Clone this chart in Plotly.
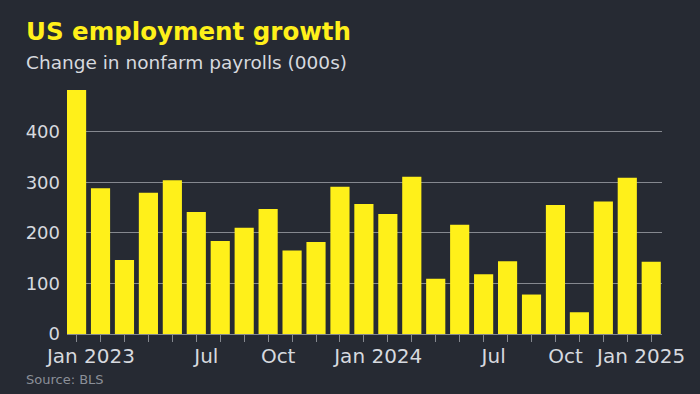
import plotly.graph_objects as go

# ---- data ----
months = ["2023-01", "2023-02", "2023-03", "2023-04", "2023-05", "2023-06",
          "2023-07", "2023-08", "2023-09", "2023-10", "2023-11", "2023-12",
          "2024-01", "2024-02", "2024-03", "2024-04", "2024-05", "2024-06",
          "2024-07", "2024-08", "2024-09", "2024-10", "2024-11", "2024-12",
          "2025-01"]
payrolls = [482, 288, 146, 279, 304, 241, 184, 210, 247, 165, 182, 291,
            257, 237, 311, 109, 216, 118, 144, 78, 255, 43, 262, 309, 143]
label_months = ["2023-01", "2023-07", "2023-10", "2024-01", "2024-07", "2024-10", "2025-01"]
label_texts = ["Jan 2023", "Jul", "Oct", "Jan 2024", "Jul", "Oct", "Jan 2025"]
y_ticks = [0, 100, 200, 300, 400]

# ---- style ----
BG = "#262a33"
YELLOW = "#fff01a"
GRID = "#85888f"
TXT = "#d6d9df"
FONT = "DejaVu Sans"

W, H = 700, 394
ML, MR, MT, MB = 67, 38, 81, 60
PH = H - MT - MB
PLOT_BOTTOM = H - MB


def py(px):
    """pixel row -> paper y"""
    return (PLOT_BOTTOM - px) / PH


PX_LEFT = (24 - ML) / (W - ML - MR)

idx = list(range(len(months)))
label_idx = [months.index(m) for m in label_months]


def label_shift(i, text):
    if i == len(months) - 1:
        return -0.42
    return 0.6 if text.startswith("Jan") else -0.58


label_pos = [i + label_shift(i, t) for i, t in zip(label_idx, label_texts)]

xr = [-0.4, len(months) - 0.55]

fig = go.Figure()
fig.add_trace(go.Bar(x=idx, y=payrolls, marker=dict(color=YELLOW, line=dict(width=0)),
                     width=0.8, showlegend=False))
# invisible trace to activate the label axis
fig.add_trace(go.Scatter(x=[xr[0]], y=[0], xaxis="x2", mode="markers",
                         marker=dict(opacity=0), showlegend=False, hoverinfo="skip"))

fig.update_layout(
    width=W, height=H,
    paper_bgcolor=BG, plot_bgcolor=BG,
    margin=dict(l=ML, r=MR, t=MT, b=MB),
    font=dict(family=FONT, color=TXT),
    xaxis=dict(range=xr, tickvals=idx, ticktext=[""] * len(idx), ticks="outside",
               ticklen=7, tickwidth=1, tickcolor=GRID, showgrid=False, zeroline=False,
               showline=False, fixedrange=True),
    xaxis2=dict(overlaying="x", anchor="y", side="bottom", range=xr,
                tickvals=label_pos, ticktext=label_texts, ticks="outside", ticklen=4,
                tickcolor="rgba(0,0,0,0)", showgrid=False, zeroline=False, showline=False,
                tickfont=dict(size=20, color=TXT, family=FONT)),
    yaxis=dict(range=[0, 500], tickvals=y_ticks, showgrid=True, gridcolor=GRID,
               gridwidth=1, zeroline=True, zerolinecolor=GRID, zerolinewidth=1,
               tickfont=dict(size=18, color=TXT, family=FONT), ticks="", ticklabelstandoff=6),
    annotations=[
        dict(text="<b>US employment growth</b>", xref="paper", yref="paper",
             x=PX_LEFT, y=py(31), xanchor="left", yanchor="middle",
             showarrow=False, font=dict(size=24.5, color=YELLOW, family=FONT)),
        dict(text="Change in nonfarm payrolls (000s)", xref="paper", yref="paper",
             x=PX_LEFT, y=py(63), xanchor="left", yanchor="middle",
             showarrow=False, font=dict(size=18.5, color=TXT, family=FONT)),
        dict(text="Source: BLS", xref="paper", yref="paper",
             x=PX_LEFT, y=py(379), xanchor="left", yanchor="middle",
             showarrow=False, font=dict(size=13, color="#8b8f98", family=FONT)),
    ],
)

fig.write_html(
    "out.html",
    config={"displayModeBar": False},
    post_script="document.body.style.margin='0';document.body.style.background='#262a33';",
)
